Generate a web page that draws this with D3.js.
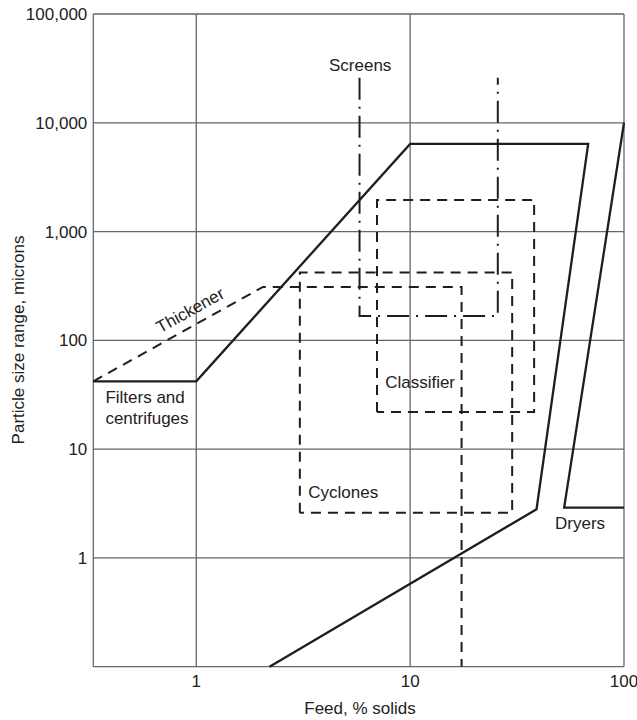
<!DOCTYPE html>
<html>
<head>
<meta charset="utf-8">
<script src="https://cdn.jsdelivr.net/npm/d3@7"></script>
<style>
    body { margin: 0; background: #fff; }
    text { font-family: "Liberation Sans", Arial, sans-serif; fill: #222; }
</style>
</head>
<body>
<div id="chart"></div>
<script>
// tick values
const xTicks = [1, 10, 100];
const yTicks = [1, 10, 100, 1000, 10000, 100000];

// equipment boundaries, [feed % solids, particle size microns]
const filtersLine = [[0.33, 42], [1, 42], [10, 6400], [68, 6400], [39, 2.8], [2.2, 0.1]];
const dryersLine = [[100, 10000], [52.5, 2.9], [100, 2.9]];
const thickenerLine = [[0.33, 42], [2.05, 310], [17.4, 310], [17.4, 0.1]];
const cyclonesBox = [[3.05, 2.6], [3.05, 420], [30, 420], [30, 2.6], [3.05, 2.6]];
const classifierBox = [[7, 22], [7, 1950], [38, 1950], [38, 22], [7, 22]];
const screensLine = [[5.8, 26000], [5.8, 167], [25.7, 167], [25.7, 26000]];

// labels, [x, y, text, anchor]
const labels = [
    [5.84, 34000, "Screens", "middle"],
    [0.376, 30, "Filters and", "start"],
    [0.376, 19.3, "centrifuges", "start"],
    [7.64, 41, "Classifier", "start"],
    [3.34, 4.0, "Cyclones", "start"],
    [47.6, 2.1, "Dryers", "start"]
];

class sizeChartVis {
    constructor(parentElement) {
        this.parentElement = parentElement;
        this.width = 637;
        this.height = 720;
        this.initializeChart();
    }

    initializeChart() {
        this.svg = d3.select(`#${this.parentElement}`)
            .append("svg")
            .attr("width", this.width)
            .attr("height", this.height);

        this.x = d3.scaleLog().domain([0.33, 100]).range([93.3, 624]);
        this.y = d3.scaleLog().domain([0.1, 100000]).range([666.7, 14]);

        this.drawGrid();
        this.drawLines();
        this.drawLabels();
    }

    drawGrid() {
        const x = this.x, y = this.y;
        const grid = this.svg.append("g")
            .attr("stroke", "#666")
            .attr("stroke-width", 1.3);

        // vertical grid lines + frame
        grid.selectAll(".vline")
            .data([0.33].concat(xTicks))
            .enter().append("line")
            .attr("x1", d => x(d)).attr("x2", d => x(d))
            .attr("y1", y(0.1)).attr("y2", y(100000));

        // horizontal grid lines + frame
        grid.selectAll(".hline")
            .data([0.1].concat(yTicks))
            .enter().append("line")
            .attr("y1", d => y(d)).attr("y2", d => y(d))
            .attr("x1", x(0.33)).attr("x2", x(100));

        // tick labels
        this.svg.selectAll(".ytick")
            .data(yTicks)
            .enter().append("text")
            .attr("x", x(0.33) - 6)
            .attr("y", d => y(d))
            .attr("dy", "0.35em")
            .attr("text-anchor", "end")
            .style("font-size", "17px")
            .text(d => d3.format(",")(d));

        this.svg.selectAll(".xtick")
            .data(xTicks)
            .enter().append("text")
            .attr("x", d => x(d))
            .attr("y", y(0.1) + 14)
            .attr("dy", "0.35em")
            .attr("text-anchor", "middle")
            .style("font-size", "17px")
            .text(d => d);

        // axis titles
        this.svg.append("text")
            .attr("x", 360)
            .attr("y", 708)
            .attr("dy", "0.35em")
            .attr("text-anchor", "middle")
            .style("font-size", "17px")
            .text("Feed, % solids");

        this.svg.append("text")
            .attr("transform", "translate(18,340) rotate(-90)")
            .attr("dy", "0.35em")
            .attr("text-anchor", "middle")
            .style("font-size", "17px")
            .text("Particle size range, microns");
    }

    drawLines() {
        const line = d3.line().x(d => this.x(d[0])).y(d => this.y(d[1]));
        const g = this.svg.append("g")
            .attr("fill", "none")
            .attr("stroke", "#1e1e1e")
            .attr("stroke-linejoin", "miter");

        g.append("path").attr("d", line(filtersLine)).attr("stroke-width", 2.3);
        g.append("path").attr("d", line(dryersLine)).attr("stroke-width", 2.3);

        [thickenerLine, cyclonesBox, classifierBox].forEach(pts => {
            g.append("path")
                .attr("d", line(pts))
                .attr("stroke-width", 2)
                .attr("stroke-dasharray", "10,7");
        });

        g.append("path")
            .attr("d", line(screensLine))
            .attr("stroke-width", 2)
            .attr("stroke-dasharray", "22,7,2,7");
    }

    drawLabels() {
        this.svg.selectAll(".lbl")
            .data(labels)
            .enter().append("text")
            .attr("x", d => this.x(d[0]))
            .attr("y", d => this.y(d[1]))
            .attr("dy", "0.35em")
            .attr("text-anchor", d => d[3])
            .style("font-size", "17px")
            .text(d => d[2]);

        // Thickener label follows its dashed line
        const p0 = [this.x(thickenerLine[0][0]), this.y(thickenerLine[0][1])];
        const p1 = [this.x(thickenerLine[1][0]), this.y(thickenerLine[1][1])];
        const angle = Math.atan2(p1[1] - p0[1], p1[0] - p0[0]) * 180 / Math.PI;
        this.svg.append("text")
            .attr("transform", `translate(${this.x(1.0)},${this.y(150)}) rotate(${angle})`)
            .attr("text-anchor", "middle")
            .attr("dy", "-0.4em")
            .style("font-size", "17px")
            .text("Thickener");
    }
}

new sizeChartVis("chart");
</script>
</body>
</html>
